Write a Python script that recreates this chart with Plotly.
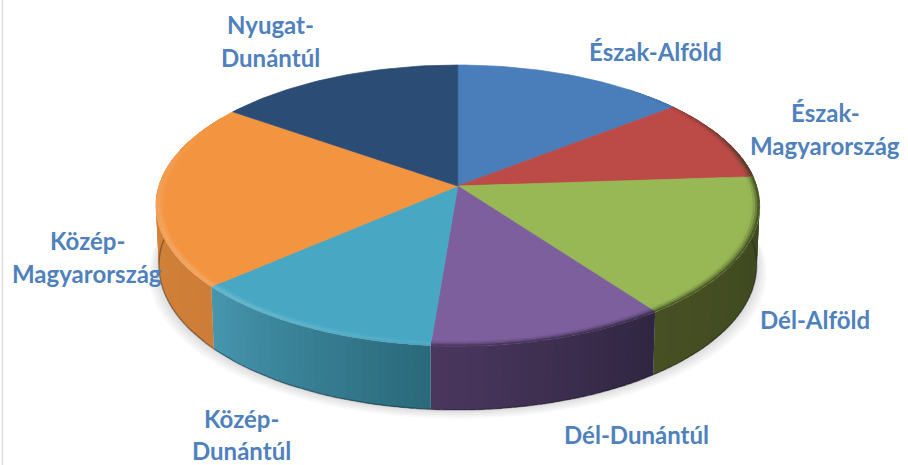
import math
import plotly.graph_objects as go

# --- data -------------------------------------------------------------
categories = ["Észak-Alföld", "Észak-Magyarország", "Dél-Alföld", "Dél-Dunántúl",
              "Közép-Dunántúl", "Közép-Magyarország", "Nyugat-Dunántúl"]
values = [14.3, 9.6, 16.1, 11.2, 12.2, 21.4, 15.1]

# --- style ------------------------------------------------------------
top_colors = ["#4A7EBB", "#BC4B48", "#98B855", "#7E5F9E", "#48A8C3", "#F39440", "#2B4C75"]
side_start = [(60, 90, 130), (90, 40, 40), (60, 70, 30), (48, 38, 65), (42, 105, 122), (205, 125, 55), (30, 50, 80)]
side_end = [(60, 90, 130), (60, 70, 30), (70, 80, 35), (75, 55, 95), (70, 150, 175), (215, 135, 60), (30, 50, 80)]
label_lines = [["Észak-Alföld"], ["Észak-", "Magyarország"], ["Dél-Alföld"], ["Dél-Dunántúl"],
               ["Közép-", "Dunántúl"], ["Közép-", "Magyarország"], ["Nyugat-", "Dunántúl"]]
label_x = [655, 825, 815, 636, 241, 87, 270]
label_y = [51, 112, 319, 434, 418, 240, 24]
label_gap = [33, 33, 33, 33, 32, 33, 33]
text_color = "#4F81BD"

CX, CY = 457.8, 186.0
A, B, K = 299.0, 137.8, 0.1388


def project(deg, r=1.0):
    t = math.radians(deg)
    u, v = r * math.sin(t), r * math.cos(t)
    w = 1 + K * v
    return CX + A * u / w, CY - B * v / w


def project_low(deg):
    x, y = project(deg)
    v = math.cos(math.radians(deg))
    depth = 59 + 5 * max(-v, 0)
    return CX + (x - CX) * 0.99, y + depth


def hex_rgb(h):
    return tuple(int(h[i:i + 2], 16) for i in (1, 3, 5))


def mix(a, b, t):
    return tuple(a[i] + (b[i] - a[i]) * t for i in range(3))


def css(c):
    return "rgb(%d,%d,%d)" % tuple(round(x) for x in c)


def frange(a, b, step):
    n = max(1, math.ceil((b - a) / step))
    return [a + (b - a) * i / n for i in range(n + 1)]


fig = go.Figure()


def poly(xs, ys, color, line=False):
    fig.add_trace(go.Scatter(
        x=xs + xs[:1], y=ys + ys[:1], mode="lines", fill="toself", fillcolor=color,
        line=dict(color=color, width=0.7 if line else 0), hoverinfo="skip", showlegend=False))


total = sum(values)
edges = [0.0]
for val in values:
    edges.append(edges[-1] + val / total * 360)

# soft shadow beneath the disc
for grow in [11, 9, 7, 5, 3, 1]:
    pts = [project_low(d) for d in frange(0, 360, 5)]
    xs = [CX + (p[0] - CX) * (1 + grow / 320) for p in pts]
    ys = [p[1] + grow * 0.8 for p in pts]
    poly(xs, ys, "rgba(0,0,0,0.022)")

# side wall (each strip overlaps the next to avoid seams)
for i in range(len(values)):
    a0, a1 = max(edges[i], 70), min(edges[i + 1], 292)
    if a1 <= a0:
        continue
    steps = frange(a0, a1, 1.5)
    for d0, d1 in zip(steps, steps[1:]):
        f = ((d0 + d1) / 2 - edges[i]) / (edges[i + 1] - edges[i])
        col = css(mix(side_start[i], side_end[i], f))
        dn = a1 if d1 + 1.0 > a1 else d1 + 1.0
        arc = frange(d0, dn, 1.0)
        up = [project(d) for d in arc]
        dw = [project_low(d) for d in reversed(arc)]
        poly([p[0] for p in up + dw], [p[1] for p in up + dw], col)

# dark lower edge of the wall
low = [project_low(d) for d in frange(75, 285, 3)]
fig.add_trace(go.Scatter(x=[p[0] for p in low], y=[p[1] for p in low], mode="lines",
                         line=dict(color="rgba(20,20,30,0.35)", width=1.5),
                         hoverinfo="skip", showlegend=False))

# top slices
for i in range(len(values)):
    arc = frange(edges[i], edges[i + 1], 1.5)
    pts = [project(d) for d in arc]
    poly([CX] + [p[0] for p in pts], [CY] + [p[1] for p in pts], top_colors[i], line=True)

# bevelled rim: painted from the inner ring outward, every ring reaching the outer edge
rings = [0.97, 0.978, 0.986, 0.993]
for i in range(len(values)):
    steps = frange(edges[i], edges[i + 1], 2.5)
    top = hex_rgb(top_colors[i])
    for j, r0 in enumerate(rings):
        t = (j + 0.5) / len(rings)
        for d0, d1 in zip(steps, steps[1:]):
            mid = (d0 + d1) / 2
            f = (mid - edges[i]) / (edges[i + 1] - edges[i])
            side = mix(side_start[i], side_end[i], f)
            if 184 <= mid <= 300:
                glow = max(math.sin(math.radians((mid - 170) * 180 / 130)), 0.1) * 0.3
                col = mix(top, (255, 255, 255), glow * t ** 1.5)
                if t > 0.8:
                    col = mix(col, side, 0.2)
            elif 40 <= mid < 184:
                col = mix(top, mix(side, (35, 35, 35), 0.2), min(1.0, (mid - 40) / 40) * t ** 1.6)
            else:
                continue
            dn = min(d1 + 1.2, edges[i + 1])
            arc = frange(d0, dn, 1.0)
            inner = [project(d, r0) for d in arc]
            outer = [project(d, 1.0) for d in reversed(arc)]
            poly([p[0] for p in inner + outer], [p[1] for p in inner + outer], css(col))

# labels
annotations = []
for lines, lx, ly, gap in zip(label_lines, label_x, label_y, label_gap):
    for n, text in enumerate(lines):
        annotations.append(dict(x=lx, y=ly + n * gap, text=text, showarrow=False,
                                xref="x", yref="y", xanchor="center", yanchor="middle",
                                font=dict(family="Lato", size=24, color=text_color, weight="bold")))

fig.update_layout(
    width=908, height=465, margin=dict(l=0, r=0, t=0, b=0),
    paper_bgcolor="white", plot_bgcolor="white", showlegend=False,
    xaxis=dict(range=[0, 908], visible=False, fixedrange=True),
    yaxis=dict(range=[465, 0], visible=False, fixedrange=True),
    annotations=annotations,
    shapes=[dict(type="line", xref="x", yref="y", x0=2.5, x1=2.5, y0=0, y1=465,
                 line=dict(color="#DDDDDD", width=1.5))],
)
fig.write_html("out.html", config={"displayModeBar": False},
               post_script="document.body.style.margin='0';document.body.style.overflow='hidden';")
